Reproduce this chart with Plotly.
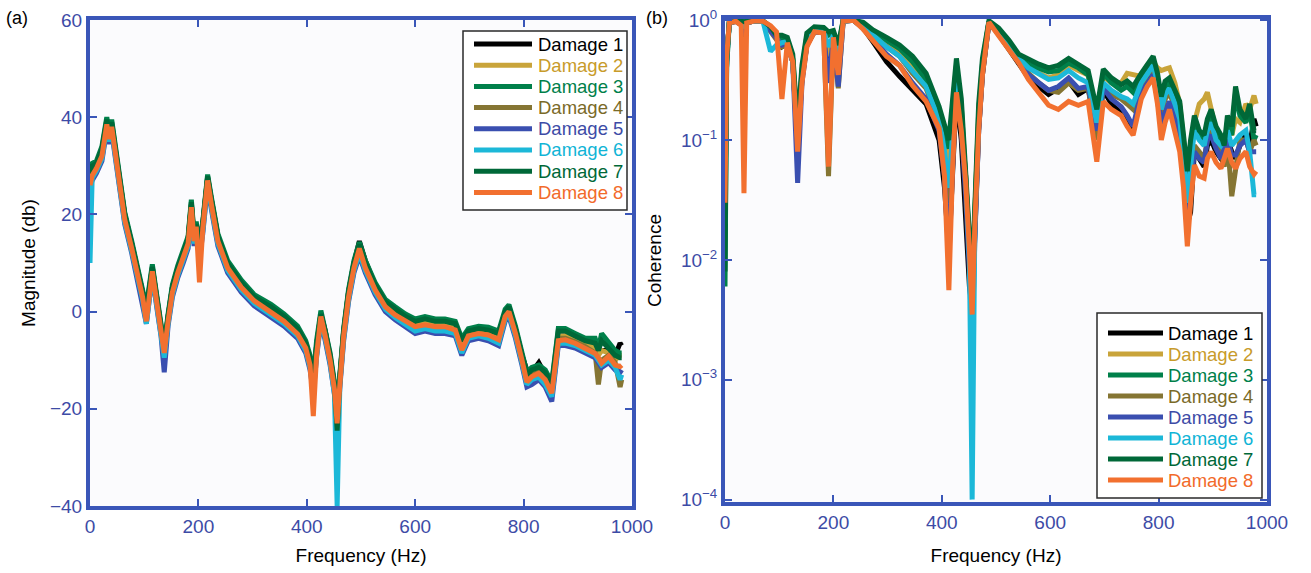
import plotly.graph_objects as go

# ---------------- data ----------------
names = ["Damage 1", "Damage 2", "Damage 3", "Damage 4", "Damage 5", "Damage 6", "Damage 7", "Damage 8"]
colors = ["#000000", "#c9a43a", "#00804a", "#857533", "#3a4fb0", "#1cb8d8", "#006838", "#f2702f"]
text_colors = ["#000000", "#c89b2a", "#00804a", "#7a6a28", "#3d4ba6", "#10b4d6", "#006838", "#f26a2a"]

# (a) magnitude (dB)
freq_mag = [0, 4, 12, 22, 31, 35, 40, 52, 64, 77, 89, 97, 104, 109, 115, 123, 131, 137, 144, 152,
            162, 172, 181, 187, 192, 196, 202, 208, 217, 224, 236, 254, 279, 303, 334, 358, 383, 398, 406, 412,
            418, 426, 434, 443, 451, 456, 461, 468, 477, 487, 497, 508, 526, 545, 563, 582, 600, 618, 637, 655,
            674, 686, 698, 717, 735, 754, 766, 773, 785, 797, 806, 815, 828, 840, 852, 864, 877, 895, 914, 932,
            938, 944, 957, 969, 978, 981]

mag_d1 = [27.5, 29, 30, 33, 39, 36, 38.5, 28.5, 20, 14, 8, 4, 0.5, 4, 9, 3, -3, -8, -1, 5,
          9, 12, 15, 22, 15, 18, 12.5, 18, 27.5, 23, 15.5, 10, 6, 3, 1, -1, -3.5, -6.5, -9.5, -15,
          -7, -0.5, -4, -9.5, -15, -24, -13.5, -4, 4, 10, 14.5, 10.5, 5.5, 2, 0.5, -1, -2, -1.5, -2, -2,
          -2.5, -6.5, -4, -3.5, -4, -5, -0.5, 0.5, -3.5, -9, -12, -12.5, -10.5, -13, -15.5, -5, -5, -5.5, -6.5, -7.5,
          -8.5, -8, -8, -9, -6.5, -7]
mag_d2 = [27, 28.5, 30, 32.5, 39, 36, 38.5, 28, 19.5, 13.5, 7.5, 3.5, 0, 3.5, 8.8, 2.5, -3.5, -8, -1.5, 4.5,
          8.5, 11.5, 14.5, 22, 15, 18, 12.5, 17.5, 27.5, 22.5, 15, 9.5, 5.5, 2.7, 0.5, -1.5, -4, -7, -10, -15.5,
          -7.5, -0.5, -4.5, -9.5, -15.5, -24, -14, -4.5, 3.5, 9.5, 13.5, 9.5, 5, 1.5, 0, -1.5, -2.5, -2, -2.5, -2.5,
          -3, -7, -4.5, -4, -4.2, -5.2, -0.5, 0.5, -4, -9.5, -13, -12.5, -12, -13, -15.5, -5, -5, -5.5, -6.5, -7.5,
          -9, -8, -8.5, -10, -9, -9]
mag_d3 = [29, 30.5, 31, 34, 40, 37, 39.5, 29, 20.5, 14.5, 8.5, 4.5, 1, 5, 9.7, 3.5, -2.5, -7, -0.5, 5.5,
          9.5, 12.5, 15.5, 23, 16, 18.5, 13.5, 18.5, 28.2, 23.5, 16, 10.5, 6.5, 3.5, 1.5, -0.5, -3, -6, -9, -14,
          -6, 0.2, -3.5, -8.5, -14.5, -24, -13, -3.5, 4.5, 10.5, 14.3, 10.5, 6, 2.5, 1, -0.5, -1.5, -1, -1.5, -1.5,
          -2, -5.5, -3.5, -3, -3.2, -4, 0.5, 1.4, -3, -8.5, -12.5, -11.5, -11, -12, -14.5, -3.5, -3.5, -4.5, -5.5, -5.5,
          -7.5, -4.5, -6.5, -8, -8.5, -8.5]
mag_d4 = [26.5, 28, 29.5, 32.5, 38.8, 35.8, 38.2, 27.8, 19.3, 13.3, 7.3, 3.3, -0.5, 3.3, 8.6, 2.3, -3.8, -8.3, -1.8, 4.3,
          8.3, 11.3, 14.3, 21.8, 14.8, 17.8, 12.5, 17.3, 27.2, 22.3, 14.8, 9.3, 5.3, 2.5, 0.3, -1.7, -4.3, -7.2, -10.5, -16,
          -8, -0.8, -4.8, -9.8, -15.8, -24.5, -14.5, -4.8, 3.3, 9.3, 13.3, 9.3, 4.8, 1.3, -0.4, -1.8, -3.5, -3, -3.2, -3.3,
          -4, -8.5, -5, -4.5, -5, -6, -1, 0, -4.5, -10, -14, -13, -12.5, -13.8, -16.5, -5.5, -5.5, -6.2, -7.2, -8.5,
          -15, -10, -9, -10.5, -15.5, -14]
mag_d5 = [25.5, 27, 28.5, 31, 37.5, 34.5, 37, 26.5, 18, 12, 6, 2, -2.5, 2, 7.5, 1, -5, -12.5, -3, 3,
          7, 10, 13, 20.5, 13.5, 16.5, 11, 16, 26, 21, 13.5, 8, 4, 1.2, -1, -3, -5.5, -8.5, -12, -16.5,
          -9.5, -2, -6, -11, -17, -25, -15.5, -6, 2, 8, 11.5, 8, 3.5, 0, -1.7, -3, -4.5, -4, -4.5, -4.5,
          -5, -9, -6, -5.5, -6, -7, -2, -1, -5.5, -11, -15.5, -15, -14, -15.5, -18.5, -7, -7, -7.5, -8.5, -9.5,
          -10.5, -11.5, -10.5, -12, -12.5, -12]
mag_d6 = [10, 27.5, 29, 31.5, 38, 35, 37.5, 27, 18.5, 12.5, 6.5, 2.5, -2.5, 2.5, 7.8, 1.5, -4.5, -9.5, -2.5, 3.5,
          7.5, 10.5, 13.5, 21, 14, 17, 11.5, 16.5, 26.5, 21.5, 14, 8.5, 4.5, 1.7, -0.5, -2.5, -5, -8, -11.5, -16,
          -9, -1.5, -5.5, -10.5, -17, -40, -15, -5.5, 2.5, 8.5, 12, 8.5, 4, 0.5, -1.2, -2.5, -4, -3.5, -4, -4,
          -4.5, -8.5, -5.5, -5, -5.5, -6.5, -1.5, -0.5, -5, -10.5, -15, -14, -13.5, -15, -17.5, -6.5, -6.5, -7, -8, -9,
          -10, -11, -10, -11.5, -14, -13]
mag_d7 = [28, 30, 30.5, 33.5, 39.5, 36.5, 39, 28.5, 20, 14, 8, 4, 0.5, 4.5, 9.2, 3, -3, -7.5, -1, 5,
          9, 12, 15, 22.5, 15.5, 18, 13, 18, 27.8, 23, 15.5, 10, 6, 3, 1, -1, -3.5, -6.5, -9.5, -15,
          -7, -0.5, -4, -9, -15, -24.5, -13.5, -4, 4, 10, 13.8, 10, 5.5, 2, 0.5, -1, -2, -1.5, -2, -2,
          -2.5, -6, -4, -3.5, -3.8, -4.5, 0, 1, -3.5, -9, -13, -12, -11.5, -12.5, -15, -4, -4, -5, -6, -6.5,
          -8, -6, -7.5, -9, -9.5, -9.5]
mag_d8 = [26, 28, 29.5, 32, 38.5, 35.5, 38, 27.5, 19, 13, 7, 3, -2, 3, 8.3, 2, -4, -8.5, -2, 4,
          8, 11, 14, 21.5, 14.5, 17.5, 6, 17, 27, 22, 14.5, 9, 5, 2.2, 0, -2, -4.6, -7.5, -11, -21.5,
          -9, -1, -5, -10, -16, -23, -15, -5, 3, 9, 13, 9, 4.5, 1, -0.7, -2, -3.1, -2.7, -3.1, -3.1,
          -3.8, -7.9, -5, -4.5, -4.8, -5.8, -1, 0, -4.5, -10, -14.5, -13.4, -12.7, -14, -16.8, -6, -5.8, -6.5, -7.5, -8.6,
          -9.5, -10.6, -9.2, -11, -11.3, -11]

# (b) coherence
freq_coh = [0, 3, 8, 20, 30, 35, 40, 55, 70, 84, 95, 105, 115, 125, 134, 142, 151, 165, 182, 191,
            200, 209, 218, 237, 255, 273, 298, 322, 346, 371, 395, 405, 413, 420, 427, 436, 444, 451, 456, 461,
            468, 475, 487, 505, 524, 542, 560, 579, 597, 615, 634, 652, 670, 686, 698, 713, 731, 742, 753, 768,
            779, 790, 798, 805, 812, 820, 830, 839, 846, 853, 859, 866, 875, 884, 890, 897, 906, 915, 921, 927,
            935, 942, 950, 961, 968, 976, 980]

coh_d1 = [0.03, 0.5, 0.95, 0.98, 0.92, 0.7, 0.95, 0.99, 0.98, 0.82, 0.72, 0.6, 0.64, 0.45, 0.09, 0.32, 0.62, 0.8, 0.79, 0.35,
          0.73, 0.5, 0.98, 1.0, 0.86, 0.66, 0.45, 0.34, 0.26, 0.2, 0.1, 0.04, 0.012, 0.05, 0.24, 0.1, 0.02, 0.006, 0.004, 0.018,
          0.12, 0.35, 0.96, 0.76, 0.57, 0.45, 0.33, 0.28, 0.24, 0.27, 0.31, 0.24, 0.27, 0.12, 0.26, 0.2, 0.17, 0.15, 0.12, 0.24,
          0.3, 0.35, 0.22, 0.12, 0.16, 0.2, 0.14, 0.1, 0.05, 0.02, 0.025, 0.08, 0.07, 0.06, 0.09, 0.1, 0.08, 0.07, 0.08, 0.1,
          0.08, 0.07, 0.09, 0.11, 0.09, 0.15, 0.13]
coh_d2 = [0.03, 0.5, 0.96, 0.98, 0.95, 0.9, 0.96, 0.99, 0.98, 0.85, 0.72, 0.7, 0.66, 0.47, 0.1, 0.35, 0.7, 0.83, 0.82, 0.5,
          0.76, 0.45, 0.99, 1.0, 0.93, 0.78, 0.65, 0.55, 0.42, 0.3, 0.15, 0.09, 0.06, 0.15, 0.35, 0.15, 0.05, 0.012, 0.005, 0.025,
          0.15, 0.4, 0.98, 0.8, 0.6, 0.46, 0.4, 0.36, 0.33, 0.35, 0.42, 0.38, 0.35, 0.15, 0.34, 0.3, 0.3, 0.36, 0.35, 0.34,
          0.42, 0.45, 0.4, 0.38, 0.39, 0.4, 0.3, 0.2, 0.1, 0.04, 0.08, 0.14, 0.2, 0.22, 0.25, 0.18, 0.12, 0.1, 0.09, 0.13,
          0.11, 0.15, 0.14, 0.2, 0.18, 0.235, 0.2]
coh_d3 = [0.006, 0.4, 0.97, 0.99, 0.97, 0.96, 0.97, 0.99, 0.98, 0.85, 0.7, 0.7, 0.68, 0.48, 0.12, 0.38, 0.74, 0.85, 0.84, 0.75,
          0.78, 0.58, 0.99, 1.0, 0.94, 0.8, 0.68, 0.58, 0.45, 0.32, 0.16, 0.11, 0.085, 0.19, 0.42, 0.19, 0.055, 0.014, 0.006, 0.03,
          0.17, 0.43, 0.98, 0.82, 0.63, 0.48, 0.43, 0.4, 0.37, 0.38, 0.44, 0.4, 0.35, 0.16, 0.36, 0.3, 0.26, 0.28, 0.25, 0.33,
          0.4, 0.46, 0.33, 0.2, 0.28, 0.3, 0.23, 0.19, 0.095, 0.05, 0.085, 0.14, 0.11, 0.1, 0.13, 0.16, 0.11, 0.095, 0.075, 0.14,
          0.11, 0.25, 0.16, 0.14, 0.18, 0.1, 0.11]
coh_d4 = [0.03, 0.5, 0.95, 0.98, 0.93, 0.8, 0.95, 0.99, 0.98, 0.8, 0.7, 0.6, 0.62, 0.45, 0.09, 0.33, 0.65, 0.82, 0.8, 0.05,
          0.74, 0.27, 0.99, 1.0, 0.9, 0.74, 0.6, 0.5, 0.36, 0.27, 0.14, 0.07, 0.03, 0.1, 0.3, 0.13, 0.05, 0.012, 0.004, 0.022,
          0.14, 0.38, 0.97, 0.78, 0.6, 0.46, 0.36, 0.3, 0.26, 0.25, 0.3, 0.26, 0.27, 0.1, 0.28, 0.24, 0.22, 0.2, 0.18, 0.28,
          0.35, 0.4, 0.28, 0.16, 0.22, 0.25, 0.18, 0.14, 0.07, 0.03, 0.05, 0.09, 0.08, 0.07, 0.1, 0.12, 0.09, 0.08, 0.06, 0.1,
          0.034, 0.06, 0.1, 0.1, 0.08, 0.1, 0.09]
coh_d5 = [0.03, 0.5, 0.95, 0.98, 0.92, 0.75, 0.95, 0.99, 0.98, 0.82, 0.72, 0.62, 0.64, 0.45, 0.044, 0.3, 0.62, 0.8, 0.79, 0.3,
          0.73, 0.28, 0.98, 1.0, 0.86, 0.7, 0.52, 0.42, 0.3, 0.22, 0.12, 0.05, 0.01, 0.06, 0.28, 0.12, 0.035, 0.008, 0.002, 0.015,
          0.12, 0.36, 0.96, 0.77, 0.6, 0.46, 0.35, 0.3, 0.26, 0.28, 0.33, 0.27, 0.28, 0.12, 0.27, 0.22, 0.19, 0.16, 0.13, 0.25,
          0.3, 0.35, 0.24, 0.13, 0.17, 0.21, 0.15, 0.11, 0.05, 0.017, 0.04, 0.08, 0.07, 0.065, 0.1, 0.11, 0.085, 0.07, 0.085, 0.1,
          0.075, 0.075, 0.09, 0.1, 0.08, 0.08, 0.08]
coh_d6 = [0.02, 0.45, 0.96, 0.98, 0.95, 0.9, 0.96, 0.99, 0.98, 0.55, 0.62, 0.65, 0.66, 0.46, 0.1, 0.36, 0.68, 0.82, 0.81, 0.6,
          0.75, 0.55, 0.98, 1.0, 0.88, 0.74, 0.6, 0.5, 0.38, 0.28, 0.15, 0.08, 0.04, 0.1, 0.32, 0.14, 0.05, 0.01, 0.0001, 0.02,
          0.14, 0.4, 0.97, 0.8, 0.62, 0.48, 0.4, 0.36, 0.32, 0.33, 0.38, 0.33, 0.3, 0.14, 0.3, 0.26, 0.23, 0.22, 0.2, 0.3,
          0.36, 0.42, 0.3, 0.18, 0.24, 0.27, 0.2, 0.15, 0.07, 0.03, 0.06, 0.12, 0.1, 0.09, 0.12, 0.14, 0.1, 0.09, 0.1, 0.12,
          0.09, 0.1, 0.11, 0.12, 0.08, 0.035, 0.035]
coh_d7 = [0.008, 0.45, 0.98, 0.99, 0.98, 0.97, 0.98, 1.0, 0.99, 0.88, 0.75, 0.75, 0.72, 0.52, 0.13, 0.42, 0.78, 0.88, 0.87, 0.8,
          0.82, 0.62, 1.0, 1.0, 0.96, 0.83, 0.72, 0.62, 0.5, 0.36, 0.19, 0.13, 0.1, 0.22, 0.48, 0.22, 0.065, 0.016, 0.007, 0.035,
          0.2, 0.48, 0.99, 0.86, 0.68, 0.52, 0.47, 0.43, 0.4, 0.42, 0.48, 0.43, 0.38, 0.18, 0.39, 0.33, 0.29, 0.31, 0.28, 0.36,
          0.43, 0.5, 0.36, 0.23, 0.31, 0.33, 0.26, 0.21, 0.11, 0.055, 0.1, 0.16, 0.12, 0.11, 0.15, 0.18, 0.13, 0.11, 0.09, 0.16,
          0.13, 0.28, 0.18, 0.15, 0.2, 0.12, 0.12]
coh_d8 = [0.03, 0.5, 0.95, 0.98, 0.9, 0.036, 0.95, 0.99, 0.98, 0.9, 0.8, 0.22, 0.65, 0.45, 0.08, 0.3, 0.6, 0.8, 0.78, 0.06,
          0.72, 0.35, 0.98, 1.0, 0.84, 0.67, 0.5, 0.42, 0.285, 0.21, 0.125, 0.05, 0.0056, 0.06, 0.25, 0.12, 0.045, 0.012, 0.0035, 0.02,
          0.12, 0.35, 0.96, 0.74, 0.57, 0.44, 0.32, 0.25, 0.195, 0.18, 0.21, 0.195, 0.21, 0.066, 0.21, 0.18, 0.16, 0.13, 0.11, 0.22,
          0.28, 0.33, 0.2, 0.1, 0.14, 0.18, 0.12, 0.08, 0.04, 0.013, 0.03, 0.062, 0.05, 0.048, 0.07, 0.08, 0.065, 0.058, 0.07, 0.085,
          0.065, 0.058, 0.07, 0.08, 0.06, 0.052, 0.055]

mag_series = [mag_d1, mag_d2, mag_d3, mag_d4, mag_d5, mag_d6, mag_d7, mag_d8]
coh_series = [coh_d1, coh_d2, coh_d3, coh_d4, coh_d5, coh_d6, coh_d7, coh_d8]
for s in mag_series:
    assert len(s) == len(freq_mag), len(s)
for s in coh_series:
    assert len(s) == len(freq_coh), len(s)

x_ticks = [0, 200, 400, 600, 800, 1000]
mag_ticks = [-40, -20, 0, 20, 40, 60]
coh_ticks = [1e-4, 1e-3, 1e-2, 1e-1, 1]
coh_ticktext = ["10<sup>\u22124</sup>", "10<sup>\u22123</sup>", "10<sup>\u22122</sup>", "10<sup>\u22121</sup>", "10<sup>0</sup>"]

# ---------------- figure ----------------
FONT = "Liberation Sans, Arial, Helvetica, sans-serif"
FRAME = "#3a56b8"
TICKC = "#3d4ba6"
W, H = 1311, 573


def px_x(p):
    return p / W


def px_y(p):
    return 1 - p / H


fig = go.Figure()
for i in range(8):
    fig.add_trace(go.Scatter(x=freq_mag, y=mag_series[i], mode="lines", name=names[i],
                             line=dict(color=colors[i], width=5), xaxis="x", yaxis="y",
                             showlegend=False))
for i in range(8):
    fig.add_trace(go.Scatter(x=freq_coh, y=coh_series[i], mode="lines", name=names[i],
                             line=dict(color=colors[i], width=5), xaxis="x2", yaxis="y2",
                             showlegend=False))

axis_common = dict(showline=True, linewidth=4, linecolor=FRAME, mirror="ticks",
                   ticks="inside", ticklen=7, tickwidth=2, tickcolor=FRAME,
                   showgrid=False, zeroline=False, automargin=False,
                   tickfont=dict(family=FONT, size=19, color=TICKC))

# legends drawn as boxes with line samples and coloured labels
shapes = []
annotations = []
legend_specs = [
    # box x0, x1, y0, y1, line x0, x1, text x, first row y, row step
    (463, 627, 31, 210, 474, 532, 536, 44, 21.2),
    (1097, 1262, 313, 498, 1108, 1163, 1166, 333, 21.0),
]
for (bx0, bx1, by0, by1, lx0, lx1, tx, ry0, step) in legend_specs:
    shapes.append(dict(type="rect", xref="paper", yref="paper",
                       x0=px_x(bx0), x1=px_x(bx1), y0=px_y(by1), y1=px_y(by0),
                       line=dict(color="#2a2a2a", width=1.5), fillcolor="white", layer="above"))
    for i in range(8):
        yy = ry0 + step * i
        shapes.append(dict(type="line", xref="paper", yref="paper",
                           x0=px_x(lx0), x1=px_x(lx1), y0=px_y(yy), y1=px_y(yy),
                           line=dict(color=colors[i], width=5), layer="above"))
        annotations.append(dict(text=names[i], x=px_x(tx), y=px_y(yy), xref="paper", yref="paper",
                                showarrow=False, xanchor="left", yanchor="middle",
                                font=dict(family=FONT, size=18.5, color=text_colors[i])))

annotations.append(dict(text="(a)", x=px_x(4), y=px_y(18), xref="paper", yref="paper", showarrow=False,
                        xanchor="left", yanchor="middle", font=dict(family=FONT, size=18, color="black")))
annotations.append(dict(text="(b)", x=px_x(644), y=px_y(18), xref="paper", yref="paper", showarrow=False,
                        xanchor="left", yanchor="middle", font=dict(family=FONT, size=18, color="black")))

fig.update_layout(
    width=W, height=H,
    margin=dict(l=0, r=0, t=0, b=0, autoexpand=False),
    paper_bgcolor="white",
    plot_bgcolor="#fbfbfd",
    font=dict(family=FONT, size=18, color="black"),
    xaxis=dict(domain=[px_x(90), px_x(632)], range=[0, 1000], tickvals=x_ticks,
               title=dict(text="Frequency (Hz)", font=dict(size=19, color="black"), standoff=14),
               anchor="y", **axis_common),
    yaxis=dict(domain=[px_y(506), px_y(20)], range=[-40, 60], tickvals=mag_ticks,
               title=dict(text="Magnitude (db)", font=dict(size=19, color="black"), standoff=10),
               anchor="x", **axis_common),
    xaxis2=dict(domain=[px_x(725), px_x(1267)], range=[0, 1000], tickvals=x_ticks,
                title=dict(text="Frequency (Hz)", font=dict(size=19, color="black"), standoff=18),
                anchor="y2", **axis_common),
    yaxis2=dict(domain=[px_y(502), px_y(19)], type="log", range=[-4.02, 0.01], tickvals=coh_ticks,
                ticktext=coh_ticktext,
                title=dict(text="Coherence", font=dict(size=19, color="black"), standoff=15),
                anchor="x2", **axis_common),
    shapes=shapes,
    annotations=annotations,
    showlegend=False,
)

fig.write_html("out.html",
               config={"displayModeBar": False, "staticPlot": True},
               post_script="document.body.style.margin='0';document.body.style.overflow='hidden';")
